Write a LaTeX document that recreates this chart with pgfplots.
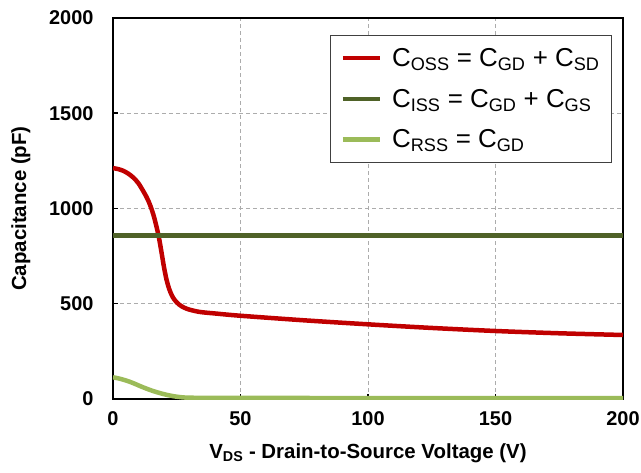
\documentclass[border=0pt]{standalone}
\usepackage{pgfplots}
\pgfplotsset{compat=1.18}
\usepackage{fontspec}
\setmainfont{Liberation Sans}
\definecolor{coss}{HTML}{C00000}
\definecolor{ciss}{HTML}{4F6228}
\definecolor{crss}{HTML}{9BBB59}
\begin{document}
\begin{tikzpicture}
\begin{axis}[
  scale only axis, width=510bp, height=381bp,
  xmin=0, xmax=200, ymin=0, ymax=2000,
  xtick={0,50,100,150,200}, ytick={0,500,1000,1500,2000},
  tick align=inside, tickpos=left,
  major tick length=5bp,
  tick style={black, line width=1.5bp},
  axis line style={black, line width=2bp},
  grid=major,
  major grid style={gray!65, dash pattern=on 4bp off 3bp, line width=0.8bp},
  /pgf/number format/assume math mode=true,
  /pgf/number format/1000 sep={},
  ticklabel style={font=\fontsize{20}{22}\selectfont\bfseries},
  xticklabel style={yshift=-9bp},
  yticklabel style={xshift=-16bp},
  xlabel={V\textsubscript{DS} - Drain-to-Source Voltage (V)},
  ylabel={Capacitance (pF)},
  label style={font=\fontsize{20.5}{22}\selectfont\bfseries},
  xlabel style={yshift=-11bp},
  ylabel style={yshift=12bp},
  legend style={at={(0.978,0.955)}, anchor=north east, draw=black!75, line width=0.6bp,
    fill=white, font=\fontsize{26}{28}\selectfont, row sep=17bp, column sep=8bp,
    inner xsep=10bp, inner ysep=11bp, cells={anchor=west}},
  legend image code/.code={\draw[#1, line width=4.5bp] (0bp,0bp) -- (37bp,0bp);},
  clip=true,
]
\addplot[coss, line width=4.5bp, smooth] coordinates {
(0,1212) (2,1207) (4,1198) (6,1183) (8,1162) (10,1132) (12,1088) (13,1064) (14,1036) (15,1002)
(16,960) (17,908) (18,848) (19,772) (20,692) (21,626) (22,579) (23,546) (24,523) (25,507)
(26,495) (27,486) (28,479) (30,469) (34,457) (40,449) (50,437)
(75,413) (100,392) (125,373) (150,357) (175,345) (200,336)};
\addlegendentry{C\textsubscript{OSS} = C\textsubscript{GD} + C\textsubscript{SD}}
\addplot[ciss, line width=4.5bp] coordinates {(0,858) (200,858)};
\addlegendentry{C\textsubscript{ISS} = C\textsubscript{GD} + C\textsubscript{GS}}
\addplot[crss, line width=4.5bp, smooth] coordinates {
(0,114) (2.5,107) (5.4,96) (8,83) (10.6,68) (13,55) (15.7,42) (18.4,31) (21,22) (24,14) (27,9) (30,7) (40,6) (100,5) (200,5)};
\addlegendentry{C\textsubscript{RSS} = C\textsubscript{GD}}
\end{axis}
\pgfresetboundingbox
\path (-113bp,-74bp) rectangle (528bp,399bp);
\end{tikzpicture}
\end{document}
